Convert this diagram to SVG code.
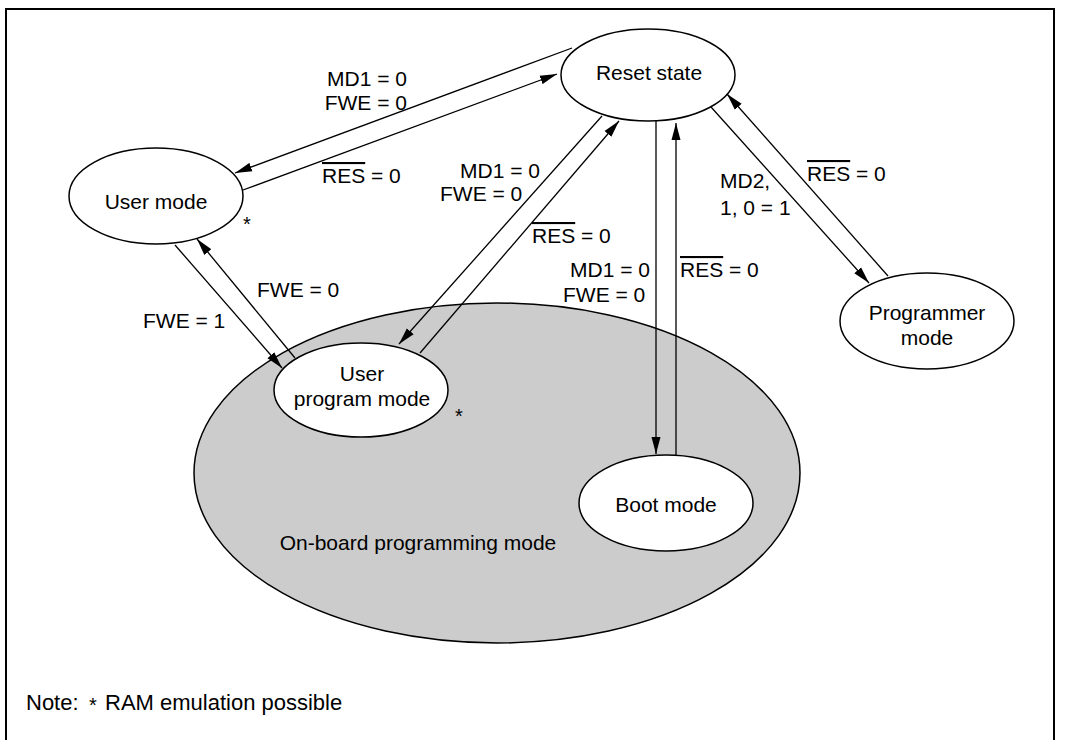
<svg xmlns="http://www.w3.org/2000/svg" width="1065" height="740" viewBox="0 0 1065 740">
<style>
text{font-family:"Liberation Sans",Arial,Helvetica,sans-serif;font-size:21px;fill:#000}
.node{fill:#fff;stroke:#000;stroke-width:1.5}
.region{fill:#cccccc;stroke:#000;stroke-width:1.5}
.conn{stroke:#000;stroke-width:1.3;fill:none;marker-end:url(#ah)}
.mid{text-anchor:middle}
.end{text-anchor:end}
.ov{text-decoration:overline}
.ast{font-size:20px}
</style>
<defs>
<marker id="ah" viewBox="0 0 17 10" refX="17" refY="5" markerWidth="17" markerHeight="10" markerUnits="userSpaceOnUse" orient="auto">
<path d="M0,0.5 L17,5 L0,9.5 z" fill="#000"/>
</marker>
</defs>
<rect width="1065" height="740" fill="#fff"/>
<path d="M6,740 V9 H1054 V740" fill="none" stroke="#000" stroke-width="2"/>

<g id="onboard">
<ellipse class="region" cx="497" cy="473" rx="303" ry="170"/>
<text class="mid" x="418" y="550">On-board programming mode</text>
</g>

<g id="connectors">
<line class="conn" x1="572" y1="48" x2="235" y2="173"/>
<line class="conn" x1="243" y1="190" x2="557" y2="74"/>
<line class="conn" x1="602" y1="116" x2="399" y2="344"/>
<line class="conn" x1="420" y1="353" x2="619" y2="121"/>
<line class="conn" x1="175" y1="245" x2="282" y2="368"/>
<line class="conn" x1="295" y1="358" x2="197" y2="239"/>
<line class="conn" x1="656" y1="121" x2="656" y2="454"/>
<line class="conn" x1="676" y1="455" x2="676" y2="123"/>
<line class="conn" x1="711" y1="107" x2="869" y2="283"/>
<line class="conn" x1="888" y1="276" x2="727" y2="94"/>
</g>

<g id="labels">
<text class="end" x="407" y="86">MD1 = 0</text>
<text class="end" x="407" y="110">FWE = 0</text>
<text x="322" y="183"><tspan class="ov">RES</tspan> = 0</text>
<text x="460" y="178">MD1 = 0</text>
<text x="440" y="201">FWE = 0</text>
<text x="532" y="243"><tspan class="ov">RES</tspan> = 0</text>
<text x="570" y="277">MD1 = 0</text>
<text x="563" y="302">FWE = 0</text>
<text x="680" y="277"><tspan class="ov">RES</tspan> = 0</text>
<text x="720" y="188">MD2,</text>
<text x="720" y="215">1, 0 = 1</text>
<text x="807" y="181"><tspan class="ov">RES</tspan> = 0</text>
<text x="257" y="297">FWE = 0</text>
<text x="143" y="328">FWE = 1</text>
</g>

<g id="reset">
<ellipse class="node" cx="648" cy="75" rx="87" ry="46"/>
<text class="mid" x="649" y="80">Reset state</text>
</g>

<g id="user">
<ellipse class="node" cx="156" cy="196" rx="87" ry="48"/>
<text class="mid" x="156" y="209">User mode</text>
<text class="ast" x="243" y="231">*</text>
</g>

<g id="userprog">
<ellipse class="node" cx="361" cy="390" rx="87" ry="47"/>
<text class="mid" x="362" y="381">User</text>
<text class="mid" x="362" y="406">program mode</text>
<text class="ast" x="455" y="423">*</text>
</g>

<g id="boot">
<ellipse class="node" cx="666" cy="503" rx="87" ry="48"/>
<text class="mid" x="666" y="512">Boot mode</text>
</g>

<g id="programmer">
<ellipse class="node" cx="927" cy="321" rx="87" ry="48"/>
<text class="mid" x="927" y="320">Programmer</text>
<text class="mid" x="927" y="345">mode</text>
</g>

<g id="note">
<text x="26" y="710" style="font-size:22px">Note:</text>
<text class="ast" x="89" y="712">*</text>
<text x="105" y="710" style="font-size:22px">RAM emulation possible</text>
</g>
</svg>
